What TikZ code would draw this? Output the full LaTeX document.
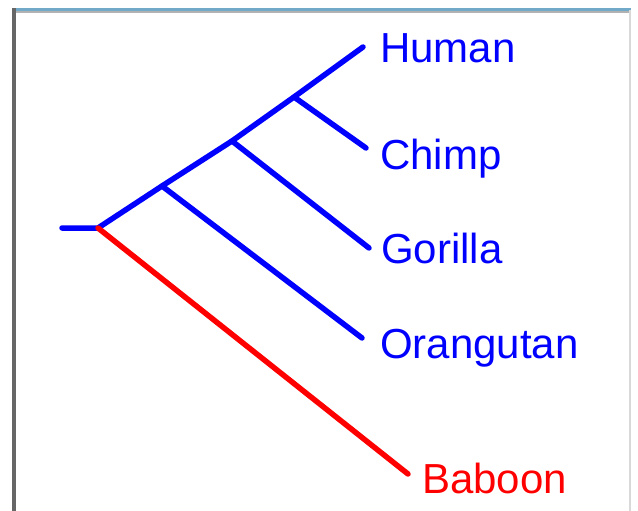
\documentclass[tikz,border=0pt]{standalone}
\usepackage{fontspec}
\setmainfont{Liberation Sans}
\definecolor{tblue}{RGB}{0,0,255}
\definecolor{tred}{RGB}{255,0,0}
\definecolor{topbar}{RGB}{112,170,200}
\begin{document}
\begin{tikzpicture}[x=1pt,y=-1pt,
  branch/.style={line width=5.5pt,line cap=round},
  leaf/.style={anchor=base west,inner sep=0pt,font=\fontsize{42}{50}\selectfont}]
\useasboundingbox (0,0) rectangle (638,511);
\fill[white] (0,0) rectangle (638,511);
% frame
\fill[topbar] (13,8) rectangle (631,11.5);
\fill[gray!60] (13,11.5) rectangle (631,13);
\fill[gray!120] (12,8) rectangle (15.5,511);
\fill[gray!30] (628.5,10) rectangle (631,511);
% tree coordinates
\coordinate (stub) at (62,228);
\coordinate (root) at (98,228);
\coordinate (n1) at (162,186);
\coordinate (n2) at (232,141);
\coordinate (n3) at (294,97);
\coordinate (hum) at (363,47);
\coordinate (chi) at (366,148);
\coordinate (gor) at (369,248);
\coordinate (ora) at (362,338);
\coordinate (bab) at (408,474);
\draw[branch,tblue] (stub) -- (root) -- (n1) -- (n2) -- (n3) -- (hum);
\draw[branch,tblue] (n3) -- (chi);
\draw[branch,tblue] (n2) -- (gor);
\draw[branch,tblue] (n1) -- (ora);
\draw[branch,tred] (root) -- (bab);
% labels
\node[leaf,text=tblue] (lhum) at (380,63) {Human};
\node[leaf,text=tblue] (lchi) at (380,169) {Chimp};
\node[leaf,text=tblue] (lgor) at (381,263) {Gorilla};
\node[leaf,text=tblue] (lora) at (380,358) {Orangutan};
\node[leaf,text=tred] (lbab) at (422,493) {Baboon};
\end{tikzpicture}
\end{document}
